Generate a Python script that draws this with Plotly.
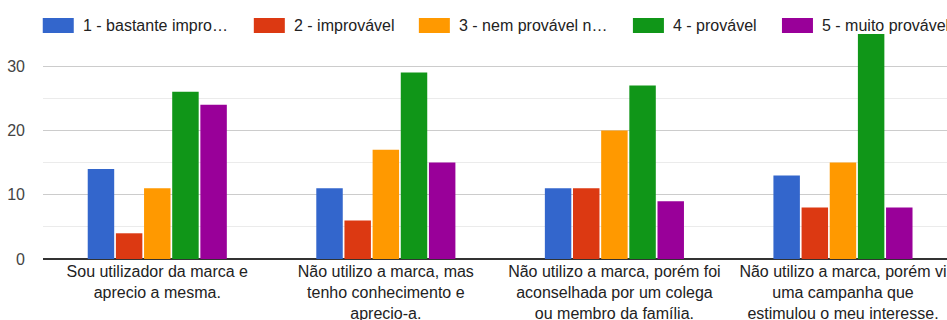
import plotly.graph_objects as go

categories = [
    "Sou utilizador da marca e<br>aprecio a mesma.",
    "Não utilizo a marca, mas<br>tenho conhecimento e<br>aprecio-a.",
    "Não utilizo a marca, porém foi<br>aconselhada por um colega<br>ou membro da família.",
    "Não utilizo a marca, porém vi<br>uma campanha que<br>estimulou o meu interesse.",
]
series_names = ["1 - bastante impro…", "2 - improvável", "3 - nem provável n…", "4 - provável", "5 - muito provável"]
values_1 = [14, 11, 11, 13]
values_2 = [4, 6, 11, 8]
values_3 = [11, 17, 20, 15]
values_4 = [26, 29, 27, 35]
values_5 = [24, 15, 9, 8]
y_tick_values = [0, 10, 20, 30]

series_values = [values_1, values_2, values_3, values_4, values_5]
colors = ["#3366cc", "#dc3912", "#ff9900", "#109618", "#990099"]

W, H = 947, 320
L, T, B = 43.25, 34, 61
plot_w = W - L
plot_h = H - T - B
FONT = "Liberation Sans, Arial, sans-serif"
TXT = "#222222"

fig = go.Figure()
for name, vals, col in zip(series_names, series_values, colors):
    fig.add_trace(go.Bar(x=list(range(len(categories))), y=vals, name=name,
                         marker=dict(color=col, line=dict(width=0))))

def px_x(x):
    return (x - L) / plot_w

def px_y(y):
    return (H - B - y) / plot_h

# manual legend
legend_x = [43, 254, 419, 633, 782]
shapes = []
annotations = []
for lx, name, col in zip(legend_x, series_names, colors):
    shapes.append(dict(type="rect", xref="paper", yref="paper",
                       x0=px_x(lx), x1=px_x(lx + 31), y0=px_y(18), y1=px_y(33),
                       fillcolor=col, line=dict(width=0)))
    annotations.append(dict(xref="paper", yref="paper", x=px_x(lx + 38), y=px_y(25.5),
                            text=name, showarrow=False, xanchor="left", yanchor="middle",
                            font=dict(family=FONT, size=16, color=TXT)))

fig.update_layout(
    width=W, height=H,
    margin=dict(l=L, r=0, t=T, b=B, pad=0, autoexpand=False),
    paper_bgcolor="white", plot_bgcolor="white",
    barmode="group", bargap=0.384, bargroupgap=0.06,
    showlegend=False,
    shapes=shapes, annotations=annotations,
    font=dict(family=FONT, size=16, color=TXT),
    xaxis=dict(tickvals=list(range(len(categories))), ticktext=categories,
               range=[-0.5, -0.5 + plot_w / 228.5], showgrid=False, zeroline=False,
               showline=False, ticks="", ticklabelstandoff=1, automargin=False,
               tickfont=dict(size=16, color=TXT),
               fixedrange=True),
    yaxis=dict(range=[0, 35], tickvals=y_tick_values, showgrid=True, gridcolor="#cccccc",
               gridwidth=1, zeroline=True, zerolinecolor="#333333", zerolinewidth=2,
               showline=False, ticks="", ticklabelstandoff=17, automargin=False,
               tickfont=dict(size=16, color="#444444"),
               minor=dict(dtick=5, tick0=0, showgrid=True, gridcolor="#ebebeb", gridwidth=1),
               fixedrange=True),
)

fig.write_html("out.html", config={"displayModeBar": False})
